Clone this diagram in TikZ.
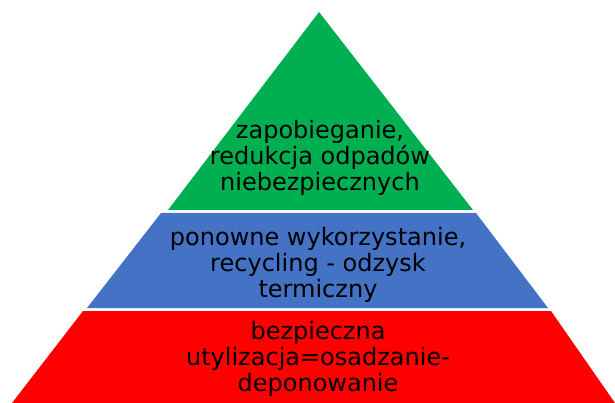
\documentclass[tikz,border=0pt]{standalone}
\usepackage{fontspec}
\setmainfont{DejaVu Sans}
\definecolor{pgreen}{HTML}{00B050}
\definecolor{pblue}{HTML}{4472C4}
\definecolor{pred}{HTML}{FF0000}
\begin{document}
\begin{tikzpicture}[x=1pt,y=-1pt,
  layertext/.style={align=center,font=\fontsize{24}{26}\selectfont,text=black,inner sep=0pt}]
\useasboundingbox (0,0) rectangle (615,403);
\fill[pgreen] (319,12) -- (473,210) -- (168,210) -- cycle;
\fill[pblue] (161,213) -- (476,213) -- (548,308) -- (87,308) -- cycle;
\fill[pred] (83,311) -- (551,311) -- (615,403) -- (12,403) -- cycle;
\node[layertext] (g) at (320,157.5) {zapobieganie,\\redukcja odpadów\\niebezpiecznych};
\node[layertext] (b) at (318,265) {ponowne wykorzystanie,\\recycling - odzysk\\termiczny};
\node[layertext] (r) at (318,358.5) {bezpieczna\\utylizacja=osadzanie-\\deponowanie};
\end{tikzpicture}
\end{document}
